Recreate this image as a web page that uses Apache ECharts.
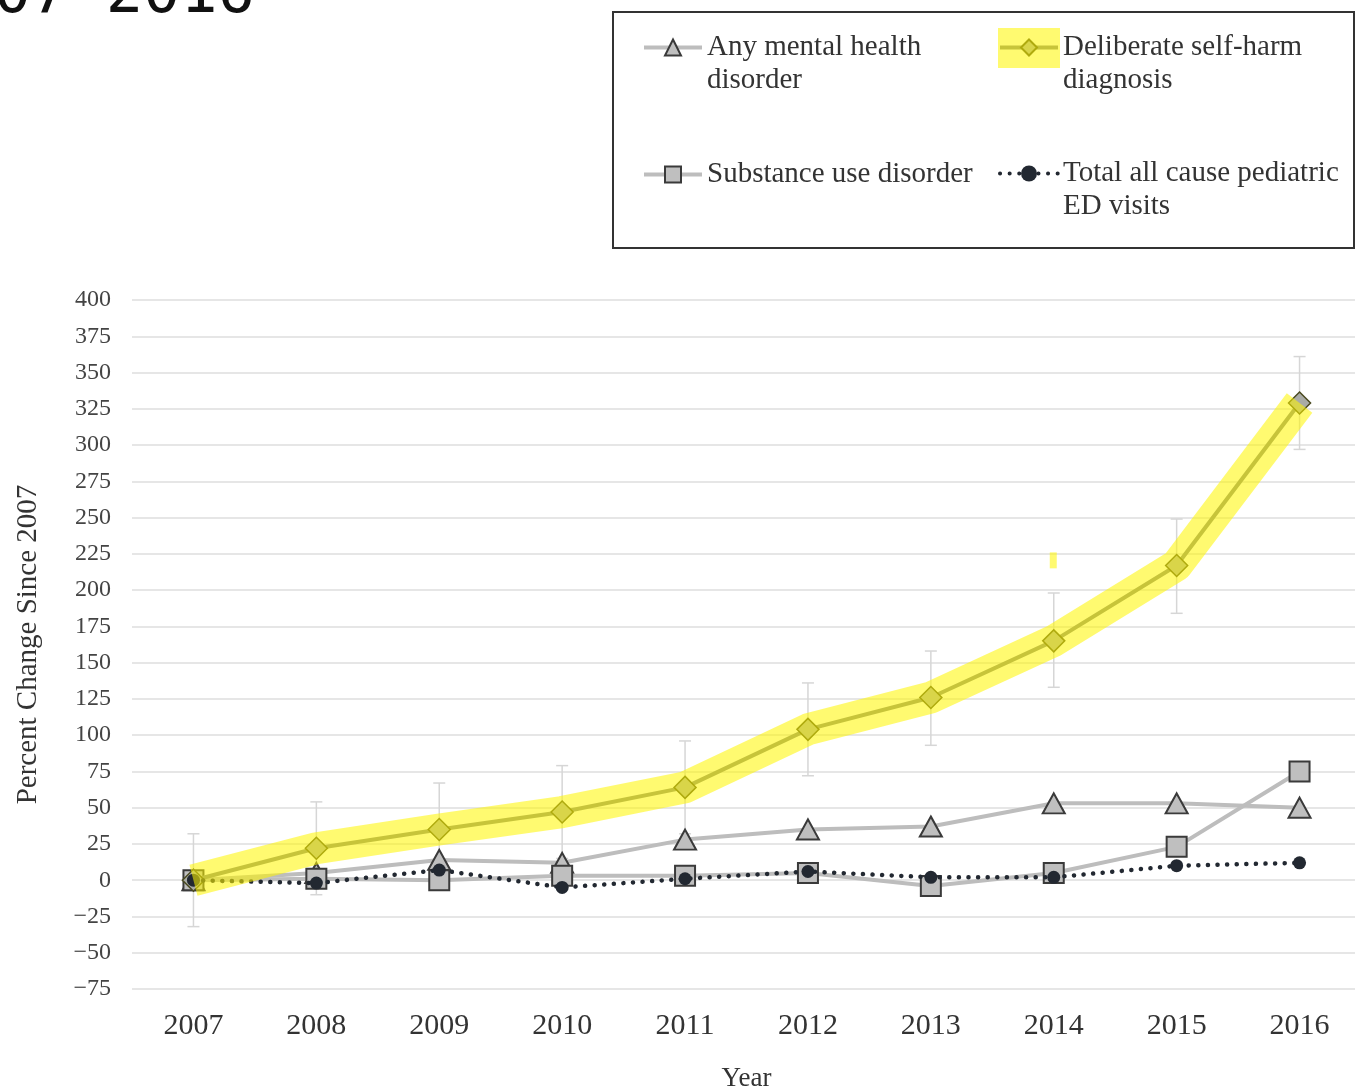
<!DOCTYPE html>
<html>
<head>
<meta charset="utf-8">
<script src="https://cdn.jsdelivr.net/npm/echarts@6/dist/echarts.min.js"></script>
<style>
  html, body { margin: 0; padding: 0; background: #ffffff; }
  #chart { width: 1355px; height: 1089px; }
</style>
</head>
<body>
<div id="chart"></div>
<script>
// Percent change in pediatric ED visits relative to 2007
const years = ['2007', '2008', '2009', '2010', '2011', '2012', '2013', '2014', '2015', '2016'];
const anyMentalHealth = [0, 5, 14, 12, 28, 35, 37, 53, 53, 50];
const substanceUse = [0, 1, 0, 3, 3, 5, -4, 5, 23, 75];
const selfHarm = [0, 22, 35, 47, 64, 104, 126, 165, 217, 329];
const selfHarmLow = [-32, -10, 3, 15, 32, 72, 93, 133, 184, 297];
const selfHarmHigh = [32, 54, 67, 79, 96, 136, 158, 198, 249, 361];
const totalEdVisits = [0, -2, 7, -5, 1, 6, 2, 2, 10, 12];
// stray highlighter dab above the 2014 point: [category index, low, high]
const strayMark = [7, 215, 226];

const yMin = -75, yMax = 400, yStep = 25;

const serif = '"Liberation Serif", "Times New Roman", serif';
const grayLine = '#bdbdbd';
const grayFill = '#bfbfbf';
const darkEdge = '#3a3a3a';
const marker = 'rgba(255, 246, 0, 0.56)';

const chart = echarts.init(document.getElementById('chart'), null, { renderer: 'canvas' });

const names = {
  amh: 'Any mental health\ndisorder',
  sud: 'Substance use disorder',
  dsh: 'Deliberate self-harm\ndiagnosis',
  tot: 'Total all cause pediatric\nED visits'
};

// keep the symbol level with the first line of a wrapped legend label
const legendLabel = name => (name.indexOf('\n') >= 0 ? ' \n' + name : name);

const legendCommon = {
  orient: 'vertical',
  top: -2,
  padding: 0,
  itemWidth: 58,
  itemHeight: 20,
  selectedMode: false,
  formatter: legendLabel,
  lineStyle: { width: 4 },
  textStyle: { fontFamily: serif, fontSize: 29, lineHeight: 33, color: '#333' }
};

const option = {
  animation: false,
  backgroundColor: '#ffffff',
  title: {
    text: '2007-2016',
    left: -86,
    top: -40,
    textStyle: { fontFamily: '"DejaVu Sans Mono", monospace', fontSize: 62, fontWeight: 'normal', color: '#111' }
  },
  legend: [
    Object.assign({}, legendCommon, { left: 642, itemGap: 61, data: [names.amh, names.sud] }),
    Object.assign({}, legendCommon, { left: 998, itemGap: 27, data: [names.dsh, names.tot] })
  ],
  graphic: [
    {
      type: 'rect',
      z: 50,
      shape: { x: 613, y: 12, width: 741, height: 236 },
      style: { fill: null, stroke: '#333', lineWidth: 2 }
    },
    {
      type: 'rect',
      z: 60,
      shape: { x: 998, y: 28, width: 62, height: 40 },
      style: { fill: marker }
    }
  ],
  grid: { left: 132, top: 300, width: 1229, height: 689, outerBoundsMode: 'none', containLabel: false },
  xAxis: {
    type: 'category',
    data: years,
    boundaryGap: true,
    axisLine: { show: false },
    axisTick: { show: false },
    axisLabel: { fontFamily: serif, fontSize: 30, color: '#333', margin: 22 },
    name: 'Year',
    nameLocation: 'middle',
    nameGap: 76,
    nameTextStyle: { fontFamily: serif, fontSize: 27, color: '#333' }
  },
  yAxis: {
    type: 'value',
    min: yMin,
    max: yMax,
    interval: yStep,
    axisLine: { show: false },
    axisTick: { show: false },
    axisLabel: {
      fontFamily: serif, fontSize: 24, color: '#444', margin: 21,
      formatter: v => String(v).replace('-', '\u2212')
    },
    splitLine: { lineStyle: { color: '#e6e6e6', width: 2 } },
    name: 'Percent Change Since 2007',
    nameLocation: 'middle',
    nameGap: 89,
    nameTextStyle: { fontFamily: serif, fontSize: 29, color: '#333' }
  },
  series: [
    {
      // 95% interval whiskers for the self-harm series
      type: 'custom',
      name: 'self-harm interval',
      z: 1,
      silent: true,
      data: years.map((y, i) => [i, selfHarmLow[i], selfHarmHigh[i]]),
      renderItem: (params, api) => {
        const lo = api.coord([api.value(0), api.value(1)]);
        const hi = api.coord([api.value(0), api.value(2)]);
        const cap = 6;
        const st = { stroke: '#d6d6d6', lineWidth: 1.5 };
        return {
          type: 'group',
          children: [
            { type: 'line', shape: { x1: lo[0], y1: lo[1], x2: hi[0], y2: hi[1] }, style: st },
            { type: 'line', shape: { x1: hi[0] - cap, y1: hi[1], x2: hi[0] + cap, y2: hi[1] }, style: st },
            { type: 'line', shape: { x1: lo[0] - cap, y1: lo[1], x2: lo[0] + cap, y2: lo[1] }, style: st }
          ]
        };
      }
    },
    {
      type: 'line',
      name: names.amh,
      z: 3,
      data: anyMentalHealth,
      symbol: 'triangle',
      symbolSize: [22, 20],
      lineStyle: { color: grayLine, width: 4 },
      itemStyle: { color: grayFill, borderColor: darkEdge, borderWidth: 2 }
    },
    {
      type: 'line',
      name: names.sud,
      z: 4,
      data: substanceUse,
      symbol: 'rect',
      symbolSize: 20,
      lineStyle: { color: grayLine, width: 4 },
      itemStyle: { color: grayFill, borderColor: darkEdge, borderWidth: 2 }
    },
    {
      type: 'line',
      name: names.dsh,
      z: 5,
      data: selfHarm,
      symbol: 'diamond',
      symbolSize: 22,
      lineStyle: { color: '#808585', width: 4 },
      itemStyle: { color: '#a9aba6', borderColor: '#4a4a20', borderWidth: 1.5 }
    },
    {
      type: 'line',
      name: names.tot,
      z: 6,
      data: totalEdVisits,
      symbol: 'circle',
      symbolSize: 13,
      lineStyle: { color: '#222831', width: 4.5, type: [0.1, 9.5], cap: 'round' },
      itemStyle: { color: '#222831', borderWidth: 0 }
    },
    {
      // highlighter stroke laid over the self-harm trend
      type: 'custom',
      name: 'highlight',
      z: 10,
      silent: true,
      data: [[0, selfHarm[0]]],
      renderItem: (params, api) => {
        const pts = selfHarm.map((v, i) => api.coord([i, v]));
        const dabTop = api.coord([strayMark[0], strayMark[2]]);
        const dabBot = api.coord([strayMark[0], strayMark[1]]);
        return {
          type: 'group',
          children: [
            {
              type: 'polyline',
              shape: { points: pts },
              style: { fill: null, stroke: marker, lineWidth: 32, lineJoin: 'round', lineCap: 'butt' }
            },
            {
              type: 'rect',
              shape: { x: dabTop[0] - 4, y: dabTop[1], width: 7, height: dabBot[1] - dabTop[1] },
              style: { fill: marker }
            }
          ]
        };
      }
    }
  ]
};

chart.setOption(option);
</script>
</body>
</html>
